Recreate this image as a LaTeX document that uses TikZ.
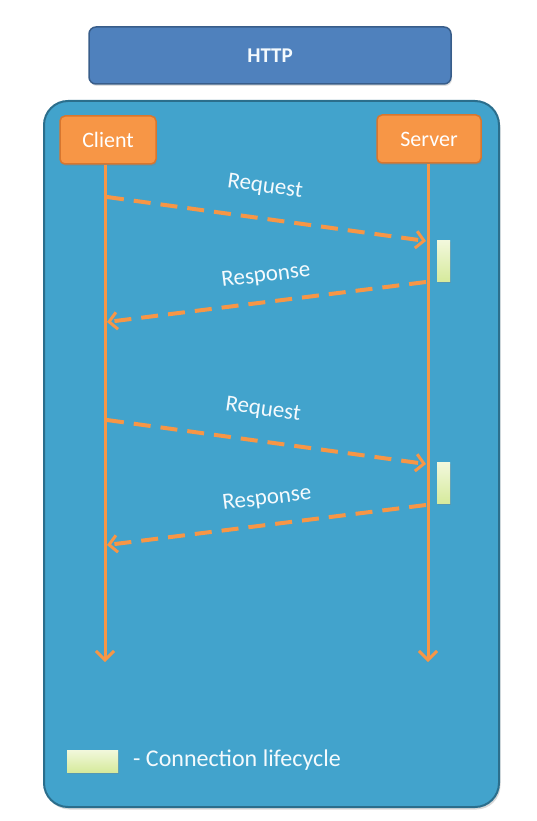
\documentclass[tikz,border=0pt]{standalone}
\usepackage{fontspec}
\setmainfont{Carlito}
\usetikzlibrary{arrows.meta,shadows}
\definecolor{hbox}{HTML}{4F81BD}
\definecolor{hboxd}{HTML}{385D8A}
\definecolor{mainb}{HTML}{42A3CC}
\definecolor{mainbd}{HTML}{2B6E8C}
\definecolor{orng}{HTML}{F79646}
\definecolor{orngd}{HTML}{D8762E}
\definecolor{barT}{HTML}{F2F8DC}
\definecolor{barB}{HTML}{D6EA9C}
\definecolor{txtw}{HTML}{F4FAFD}
\begin{document}
\begin{tikzpicture}[x=1pt,y=-1pt,
  actor/.style={draw=orngd,line width=1.5pt,fill=orng,rounded corners=5pt,text=white,font=\fontsize{22}{22}\selectfont,minimum width=96pt,minimum height=48pt,drop shadow={opacity=0.3,shadow xshift=1pt,shadow yshift=-2pt}},
  life/.style={draw=orng,line width=3pt,-{Straight Barb[length=9pt,width=18pt,line width=3pt]}},
  msg/.style={draw=orng,line width=4pt,dash pattern=on 17pt off 10pt,-{Straight Barb[length=8pt,width=17pt,line width=3pt]}},
  lbl/.style={text=txtw,font=\fontsize{23}{23}\selectfont},
  connbar/.style={draw=none,top color=barT,bottom color=barB,drop shadow={opacity=0.3,shadow xshift=1pt,shadow yshift=-1.5pt}}]
\useasboundingbox (0,0) rectangle (537,821);
% HTTP header
\node[draw=hboxd,line width=1.5pt,fill=hbox,rounded corners=7pt,minimum width=362pt,minimum height=57pt,text=txtw,font=\bfseries\fontsize{21}{21}\selectfont,drop shadow={opacity=0.25,shadow xshift=1pt,shadow yshift=-2pt}] (http) at (270,55.5) {HTTP};
% main panel
\node[draw=mainbd,line width=2pt,fill=mainb,rounded corners=24pt,minimum width=455pt,minimum height=706pt,drop shadow={opacity=0.3,shadow xshift=1.5pt,shadow yshift=-2.5pt}] (panel) at (271.5,454) {};
% actors
\node[actor] (client) at (108,140) {Client};
\node[actor,minimum width=104pt] (server) at (429,139) {Server};
\coordinate (cend) at (105,662);
\coordinate (send) at (428,662);
\draw[life] (client.south -| cend) -- (cend);
\draw[life] (server.south -| send) -- (send);
% connection bars
\node[connbar,minimum width=13pt,minimum height=41pt,inner sep=0pt] (bar1) at (443.5,261) {};
\node[connbar,minimum width=13pt,minimum height=41pt,inner sep=0pt] (bar2) at (443.5,483) {};
% messages
\coordinate (r1s) at (107,197); \coordinate (r1e) at (426,241);
\coordinate (p1s) at (426,282); \coordinate (p1e) at (107,322);
\coordinate (r2s) at (107,420); \coordinate (r2e) at (426,464);
\coordinate (p2s) at (426,505); \coordinate (p2e) at (107,545);
\draw[msg] (r1s) -- (r1e);
\draw[msg] (p1s) -- (p1e);
\draw[msg] (r2s) -- (r2e);
\draw[msg] (p2s) -- (p2e);
\node[lbl,rotate=-8] (l1) at (265,187) {Request};
\node[lbl,rotate=7] (l2) at (266,276) {Response};
\node[lbl,rotate=-8] (l3) at (263,410) {Request};
\node[lbl,rotate=7] (l4) at (267,499) {Response};
% legend
\node[connbar,minimum width=51pt,minimum height=22pt,inner sep=0pt] (legbar) at (92.5,761) {};
\node[anchor=west,text=txtw,font=\fontsize{24}{24}\selectfont,inner sep=0pt] (legtxt) at (133,760) {- Connection lifecycle};
\end{tikzpicture}
\end{document}
